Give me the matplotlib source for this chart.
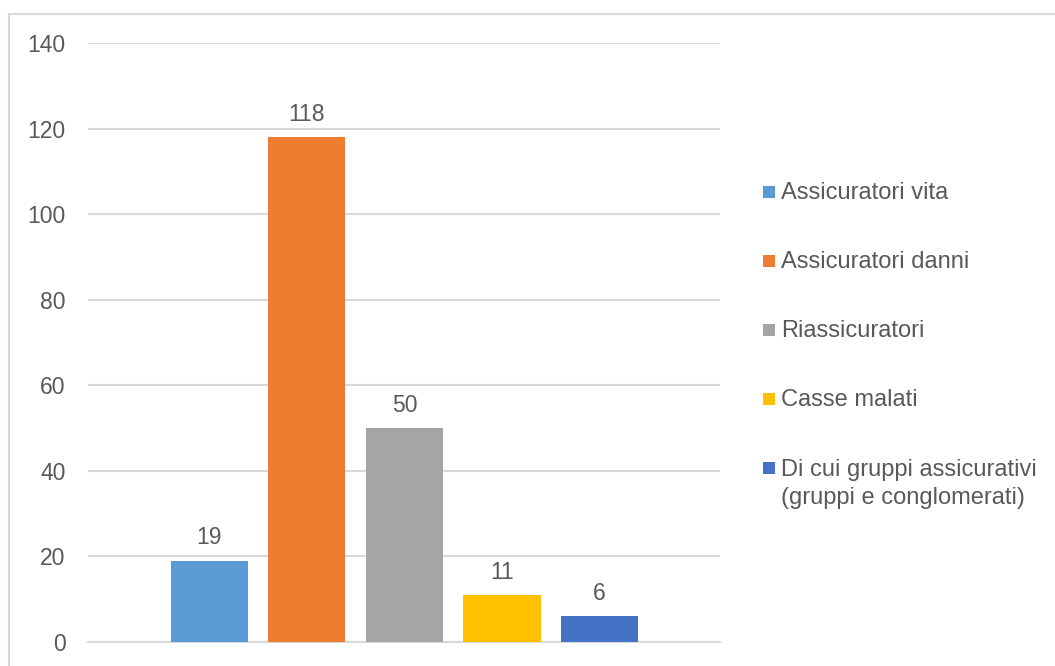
import matplotlib
matplotlib.use("Agg")
import matplotlib.pyplot as plt
from matplotlib.lines import Line2D
from matplotlib.patches import Rectangle

categories = ["Assicuratori vita", "Assicuratori danni", "Riassicuratori",
              "Casse malati", "Di cui gruppi assicurativi\n(gruppi e conglomerati)"]
values = [19, 118, 50, 11, 6]
colors = ["#5B9BD5", "#ED7D31", "#A5A5A5", "#FFC000", "#4472C4"]
yticks = [0, 20, 40, 60, 80, 100, 120, 140]

plt.rcParams['font.family'] = ['Liberation Sans', 'DejaVu Sans']
txt = "#595959"
fs = 16.5
fs_leg = 17

W, H = 1055, 666
fig = plt.figure(figsize=(W / 100, H / 100), dpi=100)
ax = fig.add_axes([88 / W, 1 - 642 / H, (720 - 88) / W, (642 - 43) / H])

x = list(range(len(values)))
bars = ax.bar(x, values, width=0.79, color=colors, zorder=3)
for b, v in zip(bars, values):
    ax.annotate(str(v), (b.get_x() + b.get_width() / 2, v), xytext=(0, 11.8),
                textcoords="offset points", ha="center", va="baseline",
                fontsize=fs, color=txt)

ax.set_xlim(-1.246, 5.236)
ax.set_ylim(0, 140)
ax.set_yticks(yticks)
ax.set_yticklabels([str(t) for t in yticks], fontsize=fs, color=txt)
ax.set_xticks([])
ax.yaxis.grid(True, color="#D9D9D9", linewidth=1.5, zorder=0)
ax.tick_params(axis="y", length=0, pad=16.2)
for s in ["top", "right", "left"]:
    ax.spines[s].set_visible(False)
ax.spines["bottom"].set_color("#D9D9D9")
ax.spines["bottom"].set_linewidth(1.5)

# legend (marker aligned with first text line, as in the reference)
base0, step, line_px = 199.3, 69.0, 29.0
for i, (c, col) in enumerate(zip(categories, colors)):
    yb = base0 + i * step
    fig.add_artist(Rectangle((763.3 / W, 1 - (yb - 1.6) / H), 11.4 / W, 11.4 / H,
                             transform=fig.transFigure, facecolor=col, edgecolor="none"))
    ylast = yb + c.count("\n") * line_px
    fig.text(781 / W, 1 - ylast / H, c, fontsize=fs_leg, color=txt, ha="left",
             va="baseline", linespacing=1.36)

# outer frame
fig.add_artist(Line2D([9 / W, 1.0], [1 - 14 / H, 1 - 14 / H], transform=fig.transFigure,
                      color="#D9D9D9", linewidth=1.5))
fig.add_artist(Line2D([9 / W, 9 / W], [1 - 14 / H, 0.0], transform=fig.transFigure,
                      color="#D9D9D9", linewidth=1.5))

fig.savefig("out.png", dpi=100)
